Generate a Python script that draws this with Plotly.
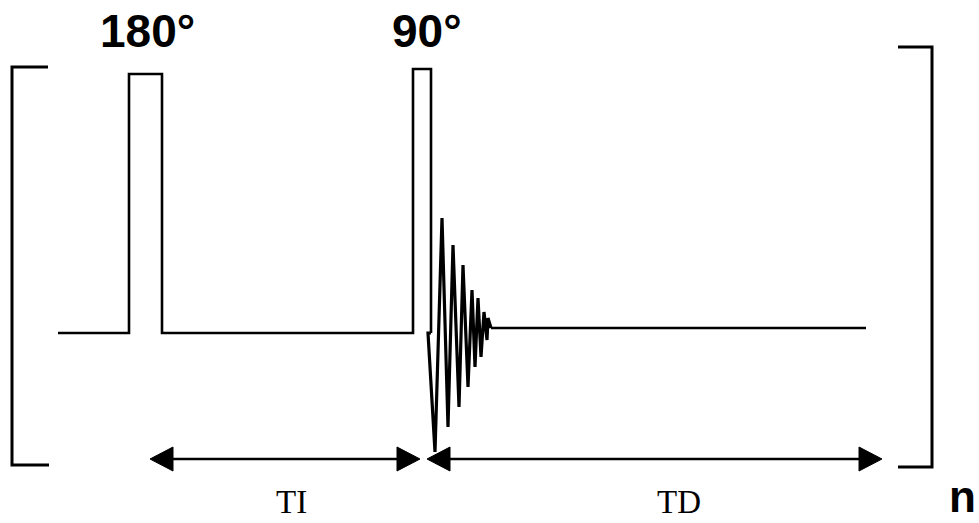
import plotly.graph_objects as go

# ---- data (diagram timings / amplitudes, in figure units) ----
baseline_y = 333
tail_y = 328
seq_start = 58
seq_end = 866

pulse_labels = ["180°", "90°"]
pulse_left = [129, 413]
pulse_right = [162, 431]
pulse_top = [74, 69]
label_x = [147, 427]
label_y = [31, 31]

# FID (free induction decay) vertices
fid_x = [431, 428, 435, 442, 448, 453, 459, 463, 468, 472, 475, 478, 481, 484, 487, 488, 491]
fid_y = [333, 333, 452, 218, 427, 245, 407, 265, 387, 290, 367, 298, 357, 312, 340, 318, 328]

# interval arrows
interval_labels = ["TI", "TD"]
interval_start = [150, 427]
interval_end = [420, 882]
interval_y = 459
interval_label_x = [291, 679]
interval_label_y = 502

# brackets
left_bracket_x = [48, 12, 12, 49]
left_bracket_y = [67, 67, 465, 465]
right_bracket_x = [898, 932, 932, 898]
right_bracket_y = [47, 47, 467, 467]
repeat_label = "n"
repeat_x = 962
repeat_y = 523

# ---- styles ----
LW = 2.6
HEAD_LEN = 23
HEAD_HALF = 12
black = "black"

fig = go.Figure()

def line(xs, ys, w=LW):
    fig.add_trace(go.Scatter(x=xs, y=ys, mode="lines",
                             line=dict(color=black, width=w),
                             hoverinfo="skip", showlegend=False))

# baseline up to the 90 pulse with 180 pulse rectangle
line([seq_start, pulse_left[0], pulse_left[0], pulse_right[0], pulse_right[0], pulse_left[1],
      pulse_left[1], pulse_right[1], pulse_right[1]],
     [baseline_y, baseline_y, pulse_top[0], pulse_top[0], baseline_y, baseline_y,
      pulse_top[1], pulse_top[1], baseline_y])

# FID
line(fid_x, fid_y, w=3.2)
# tail baseline
line([fid_x[-1], seq_end], [tail_y, tail_y])

# brackets
line(left_bracket_x, left_bracket_y, w=3)
line(right_bracket_x, right_bracket_y, w=3)

# arrows
for s, e in zip(interval_start, interval_end):
    line([s + HEAD_LEN - 2, e - HEAD_LEN + 2], [interval_y, interval_y], w=2.4)
    for tip, d in ((s, 1), (e, -1)):
        fig.add_trace(go.Scatter(
            x=[tip, tip + d * HEAD_LEN, tip + d * HEAD_LEN, tip],
            y=[interval_y, interval_y - HEAD_HALF, interval_y + HEAD_HALF, interval_y],
            mode="lines", fill="toself", fillcolor=black,
            line=dict(color=black, width=1), hoverinfo="skip", showlegend=False))

annotations = []
for t, x, y in zip(pulse_labels, label_x, label_y):
    annotations.append(dict(x=x, y=y, text="<b>" + t + "</b>", showarrow=False,
                            xref="x", yref="y",
                            font=dict(family="Liberation Sans", size=46, color=black)))
for t, x in zip(interval_labels, interval_label_x):
    annotations.append(dict(x=x, y=interval_label_y, text=t, showarrow=False,
                            xref="x", yref="y",
                            font=dict(family="Liberation Serif", size=33, color=black)))
annotations.append(dict(x=repeat_x, y=repeat_y, text="<b>" + repeat_label + "</b>",
                        showarrow=False, xref="x", yref="y", yanchor="bottom",
                        font=dict(family="Liberation Sans", size=44, color=black)))

fig.update_layout(
    width=979, height=523,
    margin=dict(l=0, r=0, t=0, b=0),
    paper_bgcolor="white", plot_bgcolor="white",
    xaxis=dict(range=[0, 979], visible=False, fixedrange=True),
    yaxis=dict(range=[523, 0], visible=False, fixedrange=True),
    annotations=annotations,
    showlegend=False,
)

fig.write_html("out.html",
               config={"displayModeBar": False},
               post_script="document.body.style.margin='0';document.body.style.overflow='hidden';")
